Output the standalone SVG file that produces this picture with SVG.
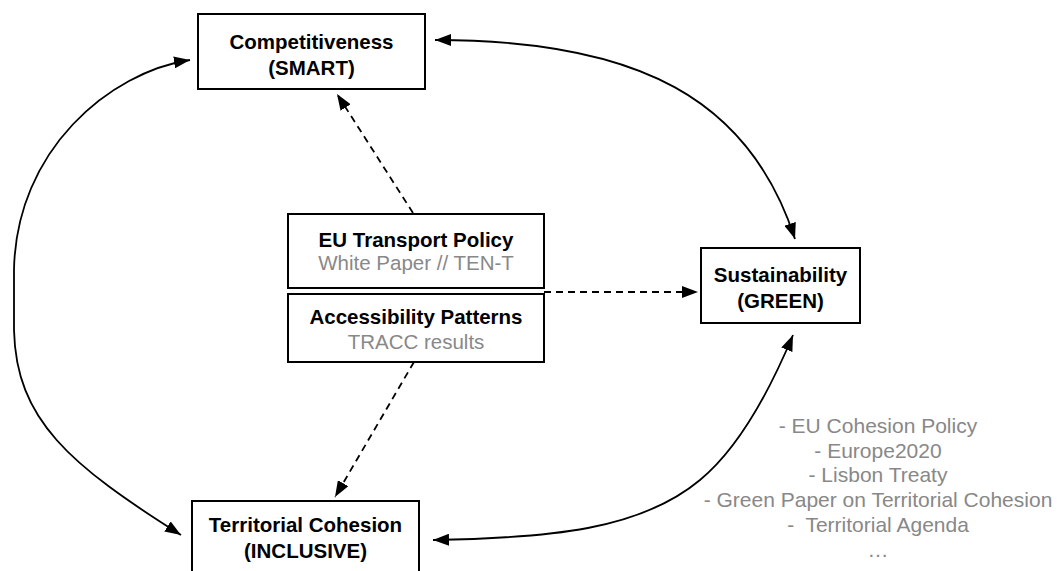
<svg xmlns="http://www.w3.org/2000/svg" width="1061" height="571" viewBox="0 0 1061 571">
  <style>
    .box { fill: #ffffff; stroke: #000000; stroke-width: 2; }
    .title { font-family: "Liberation Sans", Arial, sans-serif; font-size: 20.5px; font-weight: bold; fill: #000000; text-anchor: middle; }
    .sub { font-family: "Liberation Sans", Arial, sans-serif; font-size: 20.5px; fill: #888888; text-anchor: middle; }
    .list { font-size: 21px; }
    .link { fill: none; stroke: #000000; stroke-width: 1.8; }
    .dash { stroke-dasharray: 7 5; }
  </style>
  <defs>
    <marker id="arrow" markerUnits="userSpaceOnUse" markerWidth="16" markerHeight="12" refX="16" refY="6" orient="auto-start-reverse">
      <path d="M0,0 L16,6 L0,12 z" fill="#000000"/>
    </marker>
  </defs>
  <rect width="1061" height="571" fill="#ffffff"/>

  <!-- connectors -->
  <g id="connectors">
    <!-- solid two-way curves around the triangle -->
    <path class="link" d="M190 60 C110 72 16 150 14 270 L14 330 C16 420 70 465 181 535" marker-start="url(#arrow)" marker-end="url(#arrow)"/>
    <path class="link" d="M435 40 C640 40 750 100 795 239" marker-start="url(#arrow)" marker-end="url(#arrow)"/>
    <path class="link" d="M433 540 C550 538 640 530 700 480 C740 447 770 390 793 335" marker-start="url(#arrow)" marker-end="url(#arrow)"/>
    <!-- dashed influence arrows from the centre -->
    <path class="link dash" d="M413 213 L337 94" marker-end="url(#arrow)"/>
    <path class="link dash" d="M544 292 L698 292" marker-end="url(#arrow)"/>
    <path class="link dash" d="M414 362 L335 497" marker-end="url(#arrow)"/>
  </g>

  <g id="competitiveness">
    <rect class="box" x="198" y="14" width="227" height="75"/>
    <text class="title" x="311.5" y="49">Competitiveness</text>
    <text class="title" x="311.5" y="75">(SMART)</text>
  </g>

  <g id="sustainability">
    <rect class="box" x="701" y="248" width="159" height="75"/>
    <text class="title" x="780.5" y="282">Sustainability</text>
    <text class="title" x="780.5" y="308">(GREEN)</text>
  </g>

  <g id="territorial-cohesion">
    <rect class="box" x="192" y="501" width="227" height="80"/>
    <text class="title" x="305.5" y="532">Territorial Cohesion</text>
    <text class="title" x="305.5" y="558">(INCLUSIVE)</text>
  </g>

  <g id="transport-policy">
    <rect class="box" x="288" y="214" width="256" height="74"/>
    <text class="title" x="416" y="247">EU Transport Policy</text>
    <text class="sub" x="416" y="270">White Paper // TEN-T</text>
  </g>

  <g id="accessibility">
    <rect class="box" x="288" y="294" width="256" height="68"/>
    <text class="title" x="416" y="324">Accessibility Patterns</text>
    <text class="sub" x="416" y="349">TRACC results</text>
  </g>

  <g id="policy-list">
    <text class="sub list" x="878" y="433">- EU Cohesion Policy</text>
    <text class="sub list" x="878" y="458">- Europe2020</text>
    <text class="sub list" x="878" y="482">- Lisbon Treaty</text>
    <text class="sub list" x="878" y="507">- Green Paper on Territorial Cohesion</text>
    <text class="sub list" x="878" y="532" xml:space="preserve">-  Territorial Agenda</text>
    <text class="sub list" x="878" y="557">…</text>
  </g>
</svg>
